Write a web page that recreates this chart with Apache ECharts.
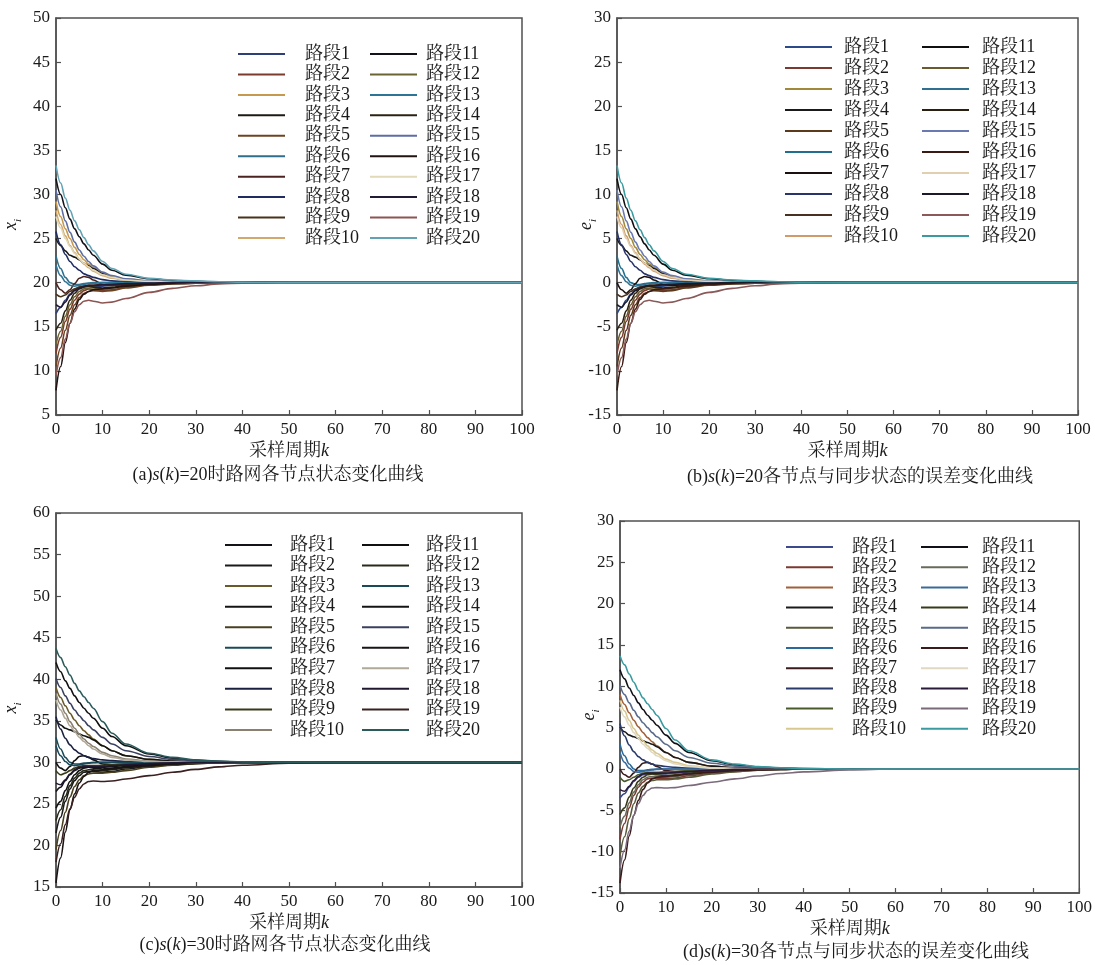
<!DOCTYPE html>
<html>
<head>
<meta charset="utf-8">
<script src="https://cdn.jsdelivr.net/npm/echarts@6/dist/echarts.min.js"></script>
<style>
  html, body { margin: 0; padding: 0; background: #fff; }
  #chart { width: 1095px; height: 965px; }
</style>
</head>
<body>
<div id="chart"></div>
<script>
// Sampling periods k at which each road-segment trajectory is tabulated
const periods = [0, 1, 2, 3, 4, 5, 6, 7, 8, 10, 12, 15, 20, 25, 30, 35, 40, 50, 60, 70, 80, 90, 100];
const segmentNames = ['路段1','路段2','路段3','路段4','路段5','路段6','路段7','路段8','路段9','路段10',
                      '路段11','路段12','路段13','路段14','路段15','路段16','路段17','路段18','路段19','路段20'];

// (a) node states x_i, s(k)=20
const xa01 = [16.5,17.2,18.0,18.7,19.2,19.5,19.6,19.6,19.6,19.6,19.7,19.8,19.9,19.95,20,20,20, 20,20,20,20,20,20];
const xa02 = [12.0,13.8,15.6,17.0,18.0,18.7,19.1,19.3,19.2,19.1,19.2,19.5,19.75,19.9,19.95,20,20, 20,20,20,20,20,20];
const xa03 = [29.2,27.5,26.1,25.0,24.0,23.2,22.6,22.1,21.7,21.1,20.7,20.4,20.2,20.1,20.05,20,20, 20,20,20,20,20,20];
const xa04 = [25.0,24.2,23.6,23.1,22.9,22.6,22.2,21.9,21.6,21.0,20.6,20.3,20.1,20.05,20,20,20, 20,20,20,20,20,20];
const xa05 = [10.5,12.6,14.6,16.3,17.5,18.3,18.8,19.0,19.1,19.0,19.1,19.4,19.7,19.85,19.95,20,20, 20,20,20,20,20,20];
const xa06 = [23.0,21.6,20.6,20.0,19.8,19.8,19.9,19.95,20,20,20,20,20,20,20,20,20, 20,20,20,20,20,20];
const xa07 = [20.0,19.2,18.8,19.2,19.9,20.5,20.7,20.6,20.3,19.8,19.7,19.8,19.9,19.95,20,20,20, 20,20,20,20,20,20];
const xa08 = [25.8,24.3,23.2,22.4,21.8,21.4,21.0,20.8,20.6,20.35,20.2,20.1,20.05,20,20,20,20, 20,20,20,20,20,20];
const xa09 = [18.7,18.4,18.6,19.0,19.3,19.5,19.6,19.7,19.7,19.8,19.85,19.9,19.95,20,20,20,20, 20,20,20,20,20,20];
const xa10 = [28.2,26.6,25.3,24.2,23.4,22.7,22.1,21.7,21.3,20.8,20.5,20.3,20.15,20.05,20,20,20, 20,20,20,20,20,20];
const xa11 = [31.8,30.0,28.5,27.2,26.1,25.2,24.4,23.7,23.1,22.1,21.4,20.85,20.45,20.25,20.15,20.05,20, 20,20,20,20,20,20];
const xa12 = [13.0,14.5,16.2,17.5,18.4,19.0,19.3,19.4,19.4,19.3,19.4,19.6,19.8,19.9,19.95,20,20, 20,20,20,20,20,20];
const xa13 = [22.0,20.8,20.1,19.7,19.6,19.7,19.8,19.9,19.95,20,20,20,20,20,20,20,20, 20,20,20,20,20,20];
const xa14 = [14.6,15.4,16.8,18.0,18.8,19.3,19.5,19.6,19.5,19.4,19.5,19.7,19.85,19.95,20,20,20, 20,20,20,20,20,20];
const xa15 = [30.5,28.6,27.0,25.7,24.6,23.7,23.0,22.4,21.9,21.2,20.8,20.45,20.2,20.1,20.05,20,20, 20,20,20,20,20,20];
const xa16 = [7.8,10.5,13.2,15.4,17.0,18.1,18.7,19.0,19.2,19.3,19.4,19.6,19.8,19.9,19.95,20,20, 20,20,20,20,20,20];
const xa17 = [27.5,26.2,25.0,24.1,23.3,22.7,22.2,21.8,21.4,20.9,20.6,20.3,20.15,20.05,20,20,20, 20,20,20,20,20,20];
const xa18 = [17.5,17.2,17.8,18.6,19.1,19.4,19.6,19.7,19.7,19.75,19.8,19.9,19.95,20,20,20,20, 20,20,20,20,20,20];
const xa19 = [9.5,11.5,13.6,15.4,16.7,17.5,17.9,18.0,17.9,17.7,17.8,18.2,18.9,19.35,19.65,19.85,19.95, 20,20,20,20,20,20];
const xa20 = [33.3,31.3,29.6,28.2,27.0,26.0,25.1,24.3,23.6,22.4,21.6,20.95,20.5,20.3,20.2,20.1,20.05, 20,20,20,20,20,20];

// (b) errors e_i against the synchronous state, s(k)=20
const eb01 = [-3.5,-2.8,-2.0,-1.3,-0.8,-0.5,-0.4,-0.4,-0.4,-0.4,-0.3,-0.2,-0.1,-0.05,0,0,0, 0,0,0,0,0,0];
const eb02 = [-8.0,-6.2,-4.4,-3.0,-2.0,-1.3,-0.9,-0.7,-0.8,-0.9,-0.8,-0.5,-0.25,-0.1,-0.05,0,0, 0,0,0,0,0,0];
const eb03 = [9.2,7.5,6.1,5.0,4.0,3.2,2.6,2.1,1.7,1.1,0.7,0.4,0.2,0.1,0.05,0,0, 0,0,0,0,0,0];
const eb04 = [5.0,4.2,3.6,3.1,2.9,2.6,2.2,1.9,1.6,1.0,0.6,0.3,0.1,0.05,0,0,0, 0,0,0,0,0,0];
const eb05 = [-9.5,-7.4,-5.4,-3.7,-2.5,-1.7,-1.2,-1.0,-0.9,-1.0,-0.9,-0.6,-0.3,-0.15,-0.05,0,0, 0,0,0,0,0,0];
const eb06 = [3.0,1.6,0.6,0.0,-0.2,-0.2,-0.1,-0.05,0,0,0,0,0,0,0,0,0, 0,0,0,0,0,0];
const eb07 = [0.0,-0.8,-1.2,-0.8,-0.1,0.5,0.7,0.6,0.3,-0.2,-0.3,-0.2,-0.1,-0.05,0,0,0, 0,0,0,0,0,0];
const eb08 = [5.8,4.3,3.2,2.4,1.8,1.4,1.0,0.8,0.6,0.35,0.2,0.1,0.05,0,0,0,0, 0,0,0,0,0,0];
const eb09 = [-1.3,-1.6,-1.4,-1.0,-0.7,-0.5,-0.4,-0.3,-0.3,-0.2,-0.15,-0.1,-0.05,0,0,0,0, 0,0,0,0,0,0];
const eb10 = [8.2,6.6,5.3,4.2,3.4,2.7,2.1,1.7,1.3,0.8,0.5,0.3,0.15,0.05,0,0,0, 0,0,0,0,0,0];
const eb11 = [11.8,10.0,8.5,7.2,6.1,5.2,4.4,3.7,3.1,2.1,1.4,0.85,0.45,0.25,0.15,0.05,0, 0,0,0,0,0,0];
const eb12 = [-7.0,-5.5,-3.8,-2.5,-1.6,-1.0,-0.7,-0.6,-0.6,-0.7,-0.6,-0.4,-0.2,-0.1,-0.05,0,0, 0,0,0,0,0,0];
const eb13 = [2.0,0.8,0.1,-0.3,-0.4,-0.3,-0.2,-0.1,-0.05,0,0,0,0,0,0,0,0, 0,0,0,0,0,0];
const eb14 = [-5.4,-4.6,-3.2,-2.0,-1.2,-0.7,-0.5,-0.4,-0.5,-0.6,-0.5,-0.3,-0.15,-0.05,0,0,0, 0,0,0,0,0,0];
const eb15 = [10.5,8.6,7.0,5.7,4.6,3.7,3.0,2.4,1.9,1.2,0.8,0.45,0.2,0.1,0.05,0,0, 0,0,0,0,0,0];
const eb16 = [-12.2,-9.5,-6.8,-4.6,-3.0,-1.9,-1.3,-1.0,-0.8,-0.7,-0.6,-0.4,-0.2,-0.1,-0.05,0,0, 0,0,0,0,0,0];
const eb17 = [7.5,6.2,5.0,4.1,3.3,2.7,2.2,1.8,1.4,0.9,0.6,0.3,0.15,0.05,0,0,0, 0,0,0,0,0,0];
const eb18 = [-2.5,-2.8,-2.2,-1.4,-0.9,-0.6,-0.4,-0.3,-0.3,-0.25,-0.2,-0.1,-0.05,0,0,0,0, 0,0,0,0,0,0];
const eb19 = [-10.5,-8.5,-6.4,-4.6,-3.3,-2.5,-2.1,-2.0,-2.1,-2.3,-2.2,-1.8,-1.1,-0.65,-0.35,-0.15,-0.05, 0,0,0,0,0,0];
const eb20 = [13.3,11.3,9.6,8.2,7.0,6.0,5.1,4.3,3.6,2.4,1.6,0.95,0.5,0.3,0.2,0.1,0.05, 0,0,0,0,0,0];

// (c) node states x_i, s(k)=30
const xc01 = [26.5,27.0,27.8,28.5,29.0,29.3,29.4,29.4,29.4,29.4,29.5,29.65,29.8,29.9,29.95,30,30, 30,30,30,30,30,30];
const xc02 = [21.5,23.4,25.3,26.8,27.8,28.4,28.8,28.9,28.9,28.8,28.9,29.2,29.5,29.7,29.85,29.95,30, 30,30,30,30,30,30];
const xc03 = [39.0,37.8,36.8,35.9,35.1,34.4,33.8,33.3,32.8,32.0,31.4,30.8,30.35,30.15,30.05,30,30, 30,30,30,30,30,30];
const xc04 = [35.1,34.5,34.1,33.9,33.7,33.4,33.2,33.0,32.7,32.0,31.4,30.8,30.35,30.15,30.05,30,30, 30,30,30,30,30,30];
const xc05 = [19.5,21.8,24.0,25.8,27.1,27.9,28.4,28.6,28.7,28.7,28.8,29.0,29.4,29.65,29.85,29.95,30, 30,30,30,30,30,30];
const xc06 = [33.0,31.6,30.6,30.0,29.8,29.8,29.9,29.95,30,30,30,30,30,30,30,30,30, 30,30,30,30,30,30];
const xc07 = [30.0,29.3,29.0,29.5,30.2,30.7,30.8,30.6,30.3,29.8,29.7,29.75,29.9,29.95,30,30,30, 30,30,30,30,30,30];
const xc08 = [35.5,34.0,32.9,32.1,31.5,31.1,30.8,30.6,30.45,30.3,30.2,30.1,30.05,30,30,30,30, 30,30,30,30,30,30];
const xc09 = [29.0,28.5,28.7,29.0,29.3,29.5,29.6,29.6,29.6,29.65,29.7,29.8,29.9,29.95,30,30,30, 30,30,30,30,30,30];
const xc10 = [38.3,37.0,35.9,34.9,34.1,33.4,32.8,32.3,31.9,31.2,30.8,30.4,30.15,30.05,30,30,30, 30,30,30,30,30,30];
const xc11 = [42.0,40.9,39.8,38.9,38.0,37.2,36.5,35.9,35.3,34.1,33.1,32.0,31.0,30.5,30.25,30.1,30.05, 30,30,30,30,30,30];
const xc12 = [23.0,24.3,25.9,27.2,28.1,28.7,29.0,29.1,29.1,29.0,29.1,29.35,29.6,29.8,29.9,29.95,30, 30,30,30,30,30,30];
const xc13 = [32.0,30.8,30.1,29.7,29.6,29.7,29.8,29.9,29.95,30,30,30,30,30,30,30,30, 30,30,30,30,30,30];
const xc14 = [24.5,25.3,26.6,27.7,28.5,29.0,29.3,29.4,29.3,29.2,29.3,29.5,29.7,29.85,29.95,30,30, 30,30,30,30,30,30];
const xc15 = [40.1,39.0,38.0,37.1,36.3,35.6,35.0,34.4,33.9,33.0,32.2,31.4,30.7,30.35,30.2,30.1,30, 30,30,30,30,30,30];
const xc16 = [15.5,18.5,21.6,24.3,26.2,27.5,28.3,28.8,29.0,29.1,29.2,29.4,29.6,29.8,29.9,29.95,30, 30,30,30,30,30,30];
const xc17 = [37.5,36.3,35.3,34.4,33.7,33.0,32.5,32.0,31.6,31.0,30.6,30.3,30.1,30.05,30,30,30, 30,30,30,30,30,30];
const xc18 = [27.5,27.3,27.9,28.6,29.1,29.4,29.5,29.5,29.5,29.5,29.6,29.7,29.85,29.95,30,30,30, 30,30,30,30,30,30];
const xc19 = [18.0,20.2,22.5,24.4,25.8,26.8,27.4,27.7,27.75,27.7,27.75,28.0,28.4,28.8,29.15,29.45,29.65, 29.9,30,30,30,30,30];
const xc20 = [43.7,42.6,41.5,40.5,39.5,38.6,37.9,37.2,36.5,34.9,33.5,32.2,31.1,30.6,30.3,30.15,30.05, 30,30,30,30,30,30];

// (d) errors e_i against the synchronous state, s(k)=30
const ed01 = [-3.5,-3.0,-2.2,-1.5,-1.0,-0.7,-0.6,-0.6,-0.6,-0.6,-0.5,-0.35,-0.2,-0.1,-0.05,0,0, 0,0,0,0,0,0];
const ed02 = [-8.5,-6.6,-4.7,-3.2,-2.2,-1.6,-1.2,-1.1,-1.1,-1.2,-1.1,-0.8,-0.5,-0.3,-0.15,-0.05,0, 0,0,0,0,0,0];
const ed03 = [9.0,7.8,6.8,5.9,5.1,4.4,3.8,3.3,2.8,2.0,1.4,0.8,0.35,0.15,0.05,0,0, 0,0,0,0,0,0];
const ed04 = [5.1,4.5,4.1,3.9,3.7,3.4,3.2,3.0,2.7,2.0,1.4,0.8,0.35,0.15,0.05,0,0, 0,0,0,0,0,0];
const ed05 = [-10.5,-8.2,-6.0,-4.2,-2.9,-2.1,-1.6,-1.4,-1.3,-1.3,-1.2,-1.0,-0.6,-0.35,-0.15,-0.05,0, 0,0,0,0,0,0];
const ed06 = [3.0,1.6,0.6,0.0,-0.2,-0.2,-0.1,-0.05,0,0,0,0,0,0,0,0,0, 0,0,0,0,0,0];
const ed07 = [0.0,-0.7,-1.0,-0.5,0.2,0.7,0.8,0.6,0.3,-0.2,-0.3,-0.25,-0.1,-0.05,0,0,0, 0,0,0,0,0,0];
const ed08 = [5.5,4.0,2.9,2.1,1.5,1.1,0.8,0.6,0.45,0.3,0.2,0.1,0.05,0,0,0,0, 0,0,0,0,0,0];
const ed09 = [-1.0,-1.5,-1.3,-1.0,-0.7,-0.5,-0.4,-0.4,-0.4,-0.35,-0.3,-0.2,-0.1,-0.05,0,0,0, 0,0,0,0,0,0];
const ed10 = [8.3,7.0,5.9,4.9,4.1,3.4,2.8,2.3,1.9,1.2,0.8,0.4,0.15,0.05,0,0,0, 0,0,0,0,0,0];
const ed11 = [12.0,10.9,9.8,8.9,8.0,7.2,6.5,5.9,5.3,4.1,3.1,2.0,1.0,0.5,0.25,0.1,0.05, 0,0,0,0,0,0];
const ed12 = [-7.0,-5.7,-4.1,-2.8,-1.9,-1.3,-1.0,-0.9,-0.9,-1.0,-0.9,-0.65,-0.4,-0.2,-0.1,-0.05,0, 0,0,0,0,0,0];
const ed13 = [2.0,0.8,0.1,-0.3,-0.4,-0.3,-0.2,-0.1,-0.05,0,0,0,0,0,0,0,0, 0,0,0,0,0,0];
const ed14 = [-5.5,-4.7,-3.4,-2.3,-1.5,-1.0,-0.7,-0.6,-0.7,-0.8,-0.7,-0.5,-0.3,-0.15,-0.05,0,0, 0,0,0,0,0,0];
const ed15 = [10.1,9.0,8.0,7.1,6.3,5.6,5.0,4.4,3.9,3.0,2.2,1.4,0.7,0.35,0.2,0.1,0, 0,0,0,0,0,0];
const ed16 = [-13.8,-11.0,-8.1,-5.6,-3.8,-2.5,-1.7,-1.2,-1.0,-0.9,-0.8,-0.6,-0.4,-0.2,-0.1,-0.05,0, 0,0,0,0,0,0];
const ed17 = [7.5,6.3,5.3,4.4,3.7,3.0,2.5,2.0,1.6,1.0,0.6,0.3,0.1,0.05,0,0,0, 0,0,0,0,0,0];
const ed18 = [-2.5,-2.7,-2.1,-1.4,-0.9,-0.6,-0.5,-0.5,-0.5,-0.5,-0.4,-0.3,-0.15,-0.05,0,0,0, 0,0,0,0,0,0];
const ed19 = [-12.0,-9.8,-7.5,-5.6,-4.2,-3.2,-2.6,-2.3,-2.25,-2.3,-2.25,-2.0,-1.6,-1.2,-0.85,-0.55,-0.35, -0.1,0,0,0,0,0];
const ed20 = [13.7,12.6,11.5,10.5,9.5,8.6,7.9,7.2,6.5,4.9,3.5,2.2,1.1,0.6,0.3,0.15,0.05, 0,0,0,0,0,0];

// line colours per panel, in segment order 1..20
const coloursA = ['#2e3f78','#7c3b2c','#c69a4c','#1d1a16','#6b4420','#2f6f8c','#4b2320','#1e2c62','#4a3119','#d2a86e',
                  '#121218','#6d6434','#2c7595','#2b2212','#5e6ea2','#221212','#e2d9b8','#231a35','#8c5552','#62a2b2'];
const coloursB = ['#2b4a8a','#7a3a30','#a08a3a','#1a1a1a','#5a3a1a','#1f6f8f','#1a1010','#28346a','#4a3020','#d09a6a',
                  '#101010','#6a5a30','#2f6f90','#2a2010','#6a7ab0','#3a1a12','#e0d0b0','#1a1a2a','#8a5a5a','#3a9aa0'];
const coloursC = ['#141418','#1a1a1a','#6a5a2a','#141414','#4a4020','#1a4a5a','#101010','#1a2040','#3a3a1a','#8a8070',
                  '#101010','#2a2a1a','#1a4a5a','#141414','#3a4060','#1a1414','#b0a898','#201830','#3a2020','#2a5a5a'];
const coloursD = ['#3a4a8a','#7a3a30','#a0603a','#1a1a1a','#5a5a3a','#2a6a9a','#3a1a1a','#2a3a6a','#4a5a2a','#d8c890',
                  '#101018','#6a6a5a','#3a6a9a','#3a3a1a','#5a6a8a','#3a1a1a','#e0d8c0','#2a1a3a','#7a6a7a','#3a9aa0'];

const panelA = [xa01,xa02,xa03,xa04,xa05,xa06,xa07,xa08,xa09,xa10,xa11,xa12,xa13,xa14,xa15,xa16,xa17,xa18,xa19,xa20];
const panelB = [eb01,eb02,eb03,eb04,eb05,eb06,eb07,eb08,eb09,eb10,eb11,eb12,eb13,eb14,eb15,eb16,eb17,eb18,eb19,eb20];
const panelC = [xc01,xc02,xc03,xc04,xc05,xc06,xc07,xc08,xc09,xc10,xc11,xc12,xc13,xc14,xc15,xc16,xc17,xc18,xc19,xc20];
const panelD = [ed01,ed02,ed03,ed04,ed05,ed06,ed07,ed08,ed09,ed10,ed11,ed12,ed13,ed14,ed15,ed16,ed17,ed18,ed19,ed20];

const SERIF = "'Liberation Serif', 'Times New Roman', 'Noto Serif CJK SC', 'Noto Sans CJK SC', serif";
const INK = '#1a1a1a';
const FRAME = '#505050';

const grids = [
  { left: 56,  top: 18,  width: 466, height: 397 },
  { left: 617, top: 18,  width: 461, height: 397 },
  { left: 56,  top: 513, width: 466, height: 374 },
  { left: 620, top: 521, width: 460, height: 372 }
].map(g => Object.assign(g, { show: true, borderColor: FRAME, borderWidth: 1.5, backgroundColor: 'transparent' }));

function xAxisFor(g) {
  return {
    gridIndex: g, type: 'value', min: 0, max: 100, interval: 10,
    name: '{t|采样周期}{k|k}', nameLocation: 'middle', nameGap: 27,
    nameMoveOverlap: false,
    nameTextStyle: {
      rich: {
        t: { fontFamily: SERIF, fontSize: 18, color: INK },
        k: { fontFamily: SERIF, fontSize: 18, fontStyle: 'italic', color: INK }
      }
    },
    axisLine: { show: true, onZero: false, lineStyle: { color: FRAME, width: 1.5 } },
    axisTick: { show: true, inside: true, length: 5, lineStyle: { color: FRAME, width: 1.2 } },
    axisLabel: { fontFamily: SERIF, fontSize: 17, color: INK, margin: 6, showMinLabel: true, showMaxLabel: true },
    splitLine: { show: false }
  };
}

function yAxisFor(g, min, max, letter, gap) {
  return {
    gridIndex: g, type: 'value', min: min, max: max, interval: 5,
    name: '{v|' + letter + '}{s|i}', nameLocation: 'middle', nameGap: gap, nameRotate: 90,
    nameMoveOverlap: false,
    nameTextStyle: {
      padding: [0, 16, 0, 0],
      rich: {
        v: { fontFamily: SERIF, fontSize: 18, fontStyle: 'italic', color: INK, lineHeight: 20, verticalAlign: 'bottom' },
        s: { fontFamily: SERIF, fontSize: 11, fontStyle: 'italic', color: INK, lineHeight: 20, verticalAlign: 'bottom', padding: [0, 0, -4, 0] }
      }
    },
    axisLine: { show: true, onZero: false, lineStyle: { color: FRAME, width: 1.5 } },
    axisTick: { show: true, inside: true, length: 5, lineStyle: { color: FRAME, width: 1.2 } },
    axisLabel: { fontFamily: SERIF, fontSize: 17, color: INK, margin: 6, showMinLabel: true, showMaxLabel: true },
    splitLine: { show: false }
  };
}

function seriesFor(values, g, colours) {
  return values.map((vals, i) => ({
    name: segmentNames[i],
    type: 'line',
    xAxisIndex: g, yAxisIndex: g,
    smooth: 0.35, smoothMonotone: 'x',
    symbol: 'none',
    lineStyle: { width: 1.6, color: colours[i] },
    itemStyle: { color: colours[i] },
    emphasis: { disabled: true },
    data: periods.map((k, j) => [k, vals[j]])
  }));
}

function legendFor(from, left, top, textPad, gap, colours) {
  return {
    orient: 'vertical', left: left, top: top, padding: 0,
    icon: 'rect', itemWidth: 47, itemHeight: 2, itemGap: gap,
    selectedMode: false,
    data: segmentNames.slice(from, from + 10).map((n, i) => ({
      name: n,
      itemStyle: { color: colours[from + i] }
    })),
    textStyle: { fontFamily: SERIF, fontSize: 18, lineHeight: 17, color: INK, padding: [0, 0, 0, textPad] }
  };
}

function caption(x, y, text) {
  return {
    type: 'text', x: x, y: y,
    style: {
      text: text,
      fontFamily: SERIF, fontSize: 18, fill: INK,
      align: 'center', verticalAlign: 'middle',
      rich: {
        i: { fontFamily: SERIF, fontSize: 18, fontStyle: 'italic', fill: INK }
      }
    }
  };
}

const chart = echarts.init(document.getElementById('chart'), null, { renderer: 'canvas' });
chart.setOption({
  animation: false,
  backgroundColor: '#ffffff',
  grid: grids,
  xAxis: [xAxisFor(0), xAxisFor(1), xAxisFor(2), xAxisFor(3)],
  yAxis: [
    yAxisFor(0, 5, 50, 'x', 36),
    yAxisFor(1, -15, 30, 'e', 22),
    yAxisFor(2, 15, 60, 'x', 36),
    yAxisFor(3, -15, 30, 'e', 22)
  ],
  legend: [
    legendFor(0, 238, 45, 15, 2.44, coloursA),
    legendFor(10, 370, 45, 4, 2.44, coloursA),
    legendFor(0, 785, 38, 7, 3, coloursB),
    legendFor(10, 922, 38, 8, 3, coloursB),
    legendFor(0, 225, 536, 13, 2.55, coloursC),
    legendFor(10, 362, 536, 12, 2.55, coloursC),
    legendFor(0, 786, 538, 14, 2.2, coloursD),
    legendFor(10, 921, 538, 9, 2.2, coloursD)
  ],
  graphic: [
    caption(278, 475, '(a){i|s}({i|k})=20时路网各节点状态变化曲线'),
    caption(860, 477, '(b){i|s}({i|k})=20各节点与同步状态的误差变化曲线'),
    caption(285, 945, '(c){i|s}({i|k})=30时路网各节点状态变化曲线'),
    caption(856, 952, '(d){i|s}({i|k})=30各节点与同步状态的误差变化曲线')
  ],
  series: [].concat(
    seriesFor(panelA, 0, coloursA),
    seriesFor(panelB, 1, coloursB),
    seriesFor(panelC, 2, coloursC),
    seriesFor(panelD, 3, coloursD)
  )
});
</script>
</body>
</html>
